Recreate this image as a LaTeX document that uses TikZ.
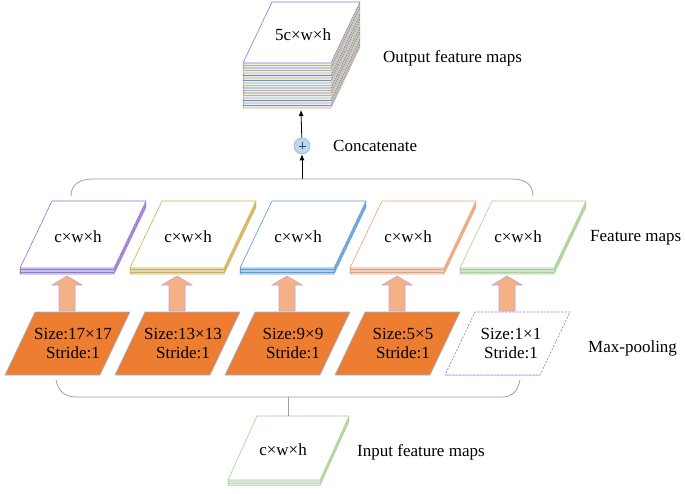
\documentclass[tikz,border=0pt]{standalone}
\usepackage{fontspec}
\setmainfont{Liberation Serif}
\newfontfamily\timesfont{Liberation Serif}
\usetikzlibrary{arrows.meta,calc}
\definecolor{cpur}{HTML}{9673D2}
\definecolor{cyel}{HTML}{D4B04A}
\definecolor{cblu}{HTML}{5B9BD5}
\definecolor{cora}{HTML}{F0A070}
\definecolor{cgre}{HTML}{A9D18E}
\definecolor{lc0}{HTML}{9673D2}
\definecolor{lc1}{HTML}{D4B04A}
\definecolor{lc2}{HTML}{5B9BD5}
\definecolor{lc3}{HTML}{F0A070}
\definecolor{lc4}{HTML}{A9D18E}
\definecolor{layerfill}{HTML}{E4EEF8}
\definecolor{mporange}{HTML}{ED7D31}
\definecolor{mpline}{HTML}{9DB3E0}
\definecolor{arrfill}{HTML}{F4B183}
\definecolor{arrline}{HTML}{C3A3D8}
\definecolor{catfill}{HTML}{BDD7EE}
\definecolor{catline}{HTML}{8FB4DE}
\tikzset{
  pics/plg/.style args={#1/#2/#3}{code={\path[pic actions] (0,0) -- (#1,0) -- (#1+#2,-#3) -- (#2,-#3) -- cycle;}},
  lbl/.style={font=\timesfont\fontsize{17}{20}\selectfont, inner sep=0pt},
  sidelbl/.style={lbl, anchor=west},
  bracket/.style={draw=gray!75, line width=0.8pt},
  conn/.style={draw=black, line width=0.8pt, -{Latex[length=6pt,width=5pt]}},
  blockarrow/.style={fill=arrfill, draw=arrline, line width=0.6pt},
  layer/.style={line width=0.6pt, fill=layerfill},
}
\begin{document}
\begin{tikzpicture}[x=1pt, y=-1pt]
\useasboundingbox (0,0) rectangle (685,494);
\fill[white] (0,0) rectangle (685,494);

% output stack
\foreach \k [evaluate=\k as \ci using {int(mod(\k,5))}] in {18,17,...,1} {
  \pic[layer, draw=lc\ci] at (243,63+\k*2.5) {plg=88/29/61};
}
\pic[draw=cpur, fill=white, line width=0.6pt] at (243,63) {plg=88/29/61};
\node[lbl] (outtxt) at (303,35) {5c×w×h};
\node[sidelbl] (outlbl) at (383,58) {Output feature maps};
\coordinate (outB) at (301,110);

% concatenate
\node[circle, minimum size=16pt, inner sep=0pt, fill=catfill, draw=catline, line width=0.6pt] (cat) at (302,146) {};
\draw[line width=0.5pt, black!70] ($(cat)+(-3.5,0)$) -- ($(cat)+(3.5,0)$) ($(cat)+(0,-3.5)$) -- ($(cat)+(0,3.5)$);
\node[sidelbl] (catlbl) at (333,146) {Concatenate};
\coordinate (topbr) at (302,179);
\draw[conn] (topbr) -- (cat);
\draw[conn] (cat) -- (outB);

% top bracket
\draw[bracket] (71,196) .. controls (71,185) and (79,179) .. (93,179) -- (512,179) .. controls (526,179) and (533,185) .. (533,196);

% feature maps
\foreach \i/\c in {0/cpur,1/cyel,2/cblu,3/cora,4/cgre} {
  \foreach \k in {4,3,2,1} {
    \pic[layer, draw=\c] at (20+110*\i,268+\k*1.5) {plg=94/32/67};
  }
  \pic[draw=\c, fill=white, line width=0.6pt] at (20+110*\i,268) {plg=94/32/67};
  \node[lbl] (fm\i) at (78+110*\i,237) {c×w×h};
  \coordinate (fmB\i) at (67+110*\i,276);
  \coordinate (mpT\i) at (67+110*\i,311);
  \draw[blockarrow] ($(mpT\i)+(-8,0)$) -- ($(fmB\i)+(-8,9)$) -- ($(fmB\i)+(-15,9)$) -- (fmB\i) -- ($(fmB\i)+(15,9)$) -- ($(fmB\i)+(8,9)$) -- ($(mpT\i)+(8,0)$) -- cycle;
}
\node[sidelbl] (fmlbl) at (590,238) {Feature maps};

% max-pooling
\foreach \i/\s in {0/17×17,1/13×13,2/9×9,3/5×5} {
  \pic[draw=mpline, fill=mporange, line width=0.6pt] at (5+110*\i,375) {plg=95/30/63};
  \node[lbl, align=center] (mp\i) at (73+110*\i,343) {Size:\s\\[-1pt]Stride:1};
}
\pic[draw=cpur, fill=white, line width=0.6pt, dashed, dash pattern=on 2pt off 1.5pt] at (445,375) {plg=95/30/63};
\draw[cblu!40, line width=0.8pt] (445,375) -- (540,375);
\node[lbl, align=center] (mp4) at (511,343) {Size:1×1\\[-1pt]Stride:1};
\node[sidelbl] (mplbl) at (588,348) {Max-pooling};

% bottom bracket
\draw[bracket] (56,380) .. controls (58,391) and (65,397) .. (76,397) -- (502,397) .. controls (512,397) and (518,391) .. (520,380);
\coordinate (botbr) at (288,397);

% input
\foreach \k in {3,2,1} {
  \pic[layer, draw=cgre] at (228,480+\k*1.8) {plg=92/29/64};
}
\pic[draw=cgre, fill=white, line width=0.6pt] at (228,480) {plg=92/29/64};
\coordinate (inT) at (288,416);
\draw[bracket] (botbr) -- (inT);
\node[lbl] (intxt) at (283,450) {c×w×h};
\node[sidelbl] (inlbl) at (357,452) {Input feature maps};
\end{tikzpicture}
\end{document}
